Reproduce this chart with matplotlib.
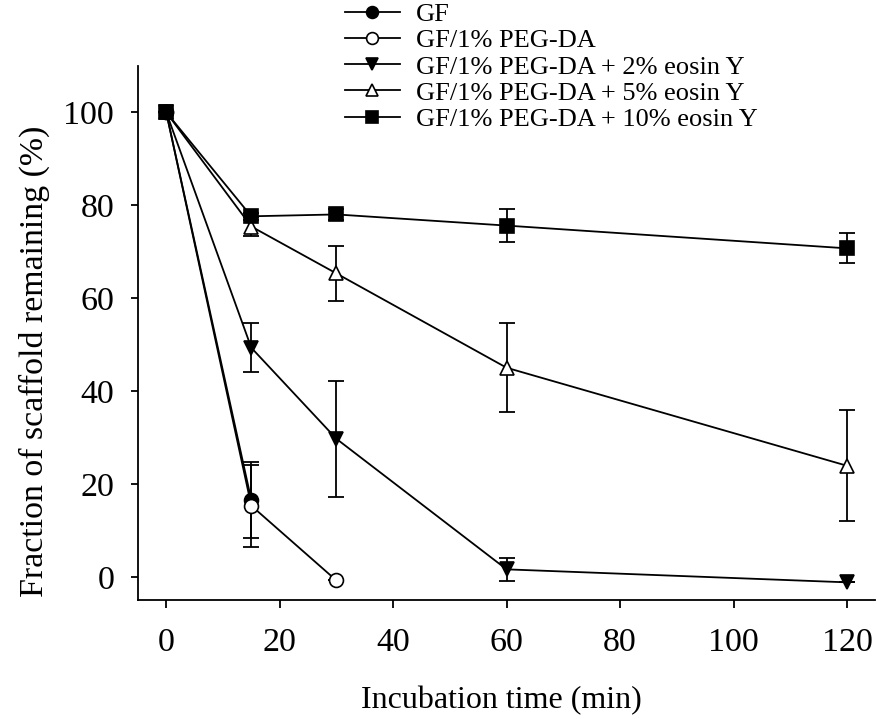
import matplotlib
matplotlib.use("Agg")
import matplotlib.pyplot as plt

plt.rcParams['font.family'] = ['Liberation Serif', 'DejaVu Serif']

labels = ["GF", "GF/1% PEG-DA", "GF/1% PEG-DA + 2% eosin Y",
          "GF/1% PEG-DA + 5% eosin Y", "GF/1% PEG-DA + 10% eosin Y"]

t_gf = [0, 15]
y_gf = [100, 16.5]
e_gf = [0, 8.2]

t_peg = [0, 15, 30]
y_peg = [100, 15.3, -0.8]
e_peg = [0, 8.8, 0]

t_e2 = [0, 15, 30, 60, 120]
y_e2 = [100, 49.3, 29.7, 1.6, -1.2]
e_e2 = [0, 5.3, 12.5, 2.5, 0]

t_e5 = [0, 15, 30, 60, 120]
y_e5 = [100, 75.4, 65.3, 45.0, 23.9]
e_e5 = [0, 2.1, 6.0, 9.6, 11.9]

t_e10 = [0, 15, 30, 60, 120]
y_e10 = [100, 77.6, 78.0, 75.6, 70.7]
e_e10 = [0, 0.8, 1.2, 3.6, 3.2]

series = [
    (t_gf, y_gf, e_gf, 'o', 'black'),
    (t_peg, y_peg, e_peg, 'o', 'white'),
    (t_e2, y_e2, e_e2, 'v', 'black'),
    (t_e5, y_e5, e_e5, '^', 'white'),
    (t_e10, y_e10, e_e10, 's', 'black'),
]

fig = plt.figure(figsize=(8.78, 7.19), dpi=100)
ax = fig.add_axes([0.157, 0.1655, 0.84, 0.743])

handles = []
for (t, y, e, m, fc), lab in zip(series, labels):
    ax.errorbar(t, y, yerr=e, fmt='none', ecolor='black', elinewidth=1.3,
                capsize=6, capthick=1.3, zorder=2)
    h, = ax.plot(t, y, color='black', lw=1.3, marker=m, markersize=10,
                 markerfacecolor=fc, markeredgecolor='black', markeredgewidth=1.2,
                 label=lab, zorder=3)
    handles.append(h)

ax.set_xlim(-5, 125)
ax.set_ylim(-5, 110)
ax.set_xticks([0, 20, 40, 60, 80, 100, 120])
ax.set_yticks([0, 20, 40, 60, 80, 100])
for s in ['top', 'right']:
    ax.spines[s].set_visible(False)
for s in ['left', 'bottom']:
    ax.spines[s].set_linewidth(1.3)
ax.tick_params(axis='both', direction='out', labelsize=24.5, width=1.3)
ax.tick_params(axis='y', length=5, pad=12)
ax.tick_params(axis='x', length=6, pad=14)

ax.set_xlabel("Incubation time (min)", fontsize=23, labelpad=20)
ax.set_ylabel("Fraction of scaffold remaining (%)", fontsize=24.4, labelpad=10)
ax.xaxis.label.set_x(0.4925)
ax.yaxis.label.set_y(0.446)

fig.legend(handles=handles, labels=labels, loc='upper left',
           bbox_to_anchor=(0.393, 0.996), frameon=False, fontsize=19,
           handlelength=2.08, handletextpad=0.6, labelspacing=0.1,
           borderpad=0, borderaxespad=0, markerscale=0.85)

fig.savefig("out.png", dpi=100)
